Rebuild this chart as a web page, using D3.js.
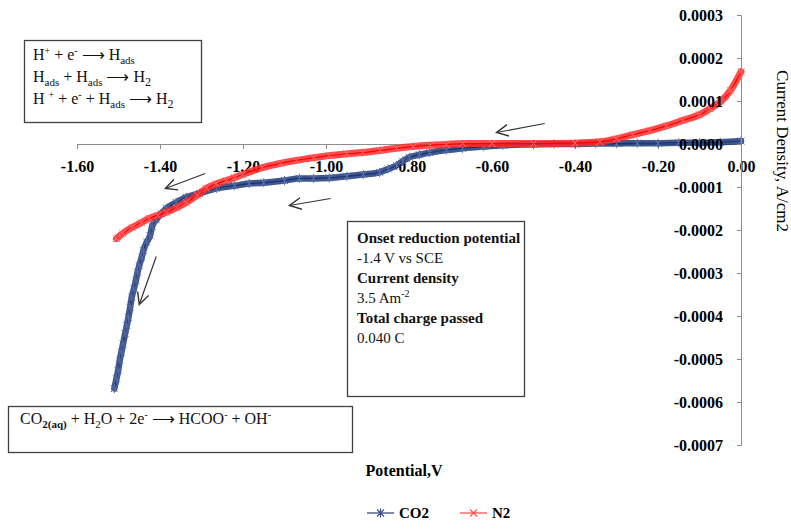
<!DOCTYPE html>
<html lang="en">
<head>
<meta charset="UTF-8">
<script src="https://cdnjs.cloudflare.com/ajax/libs/d3/7.8.5/d3.min.js"></script>
<style>
  body { margin: 0; background: #fff; }
  svg text { font-family: "Liberation Serif", "Times New Roman", serif; }
  .tick text { font-weight: bold; font-size: 16px; fill: #000; }
  .tick line, .domain { stroke: #8c8c8c; }
</style>
</head>
<body>
<div id="chart"></div>
<script>
// ---- data (potential in V, current density in A/cm2) ----
const co2Potential = [-1.510, -1.505, -1.501, -1.497, -1.493, -1.489, -1.484, -1.480, -1.476, -1.472,
  -1.468, -1.463, -1.458, -1.454, -1.450, -1.444, -1.440, -1.432, -1.424, -1.419, -1.409, -1.397,
  -1.385, -1.361, -1.337, -1.305, -1.264, -1.22, -1.185, -1.15, -1.10, -1.064, -1.03, -0.992,
  -0.95, -0.91, -0.871, -0.85, -0.830, -0.815, -0.799, -0.775, -0.750, -0.71, -0.671, -0.62,
  -0.574, -0.50, -0.45, -0.40, -0.35, -0.30, -0.25, -0.20, -0.15, -0.10, -0.05, 0.0];
const co2Current = [-5.69, -5.46, -5.27, -5.03, -4.84, -4.65, -4.41, -4.22, -4.03, -3.80,
  -3.56, -3.37, -3.17, -2.98, -2.83, -2.63, -2.48, -2.28, -2.13, -1.92, -1.76, -1.62,
  -1.50, -1.36, -1.24, -1.15, -1.03, -0.97, -0.92, -0.90, -0.85, -0.80, -0.80, -0.79,
  -0.75, -0.71, -0.66, -0.58, -0.50, -0.40, -0.31, -0.25, -0.20, -0.14, -0.10, -0.06,
  -0.03, -0.01, 0.00, 0.00, 0.01, 0.01, 0.02, 0.02, 0.03, 0.03, 0.04, 0.07].map(v => v * 1e-4);

const n2Potential = [-1.505, -1.49, -1.467, -1.445, -1.426, -1.405, -1.385, -1.36, -1.337, -1.31,
  -1.288, -1.265, -1.240, -1.22, -1.201, -1.153, -1.11, -1.071, -1.03, -0.992, -0.95, -0.912,
  -0.87, -0.830, -0.79, -0.750, -0.71, -0.671, -0.60, -0.50, -0.40, -0.34, -0.30, -0.26,
  -0.22, -0.18, -0.14, -0.10, -0.075, -0.05, -0.025, 0.0];
const n2Current = [-2.20, -2.08, -1.94, -1.83, -1.73, -1.66, -1.59, -1.48, -1.36, -1.19,
  -1.03, -0.93, -0.85, -0.78, -0.71, -0.55, -0.45, -0.38, -0.32, -0.27, -0.23, -0.20,
  -0.15, -0.10, -0.06, -0.03, -0.01, 0.01, 0.01, 0.01, 0.02, 0.05, 0.12, 0.22,
  0.31, 0.42, 0.55, 0.68, 0.82, 0.98, 1.25, 1.68].map(v => v * 1e-4);

const xTicks = [-1.6, -1.4, -1.2, -1.0, -0.8, -0.6, -0.4, -0.2, 0.0];
const yTicks = [0.0003, 0.0002, 0.0001, 0, -0.0001, -0.0002, -0.0003, -0.0004, -0.0005, -0.0006, -0.0007];

// direction arrows [tail potential, tail current, head potential, head current]
const arrows = [
  [-0.473, 0.0000477, -0.589, 0.0000267],
  [-1.291, -0.0000686, -1.387, -0.0001035],
  [-0.989, -0.0001267, -1.088, -0.000143],
  [-1.409, -0.0002616, -1.450, -0.0003733]
];

const co2 = co2Potential.map((d, i) => [d, co2Current[i]]);
const n2 = n2Potential.map((d, i) => [d, n2Current[i]]);

// ---- layout ----
const width = 791, height = 529;
const svg = d3.select("#chart").append("svg")
  .attr("width", width).attr("height", height);

const x = d3.scaleLinear().domain([-1.6, 0]).range([77, 741]);
const y = d3.scaleLinear().domain([-0.0007, 0.0003]).range([445, 15]);

// x axis on the zero line
svg.append("g")
  .attr("transform", `translate(0,${y(0)})`)
  .call(d3.axisBottom(x).tickValues(xTicks).tickSize(5).tickPadding(12).tickFormat(d3.format(".2f")))
  .call(g => g.selectAll(".tick text").text(d => d3.format(".2f")(d).replace("−", "-")));

// curves
const line = d3.line().x(d => x(d[0])).y(d => y(d[1])).curve(d3.curveMonotoneX);

function starPath(s) {
  return `M${-s},${-s}L${s},${s}M${-s},${s}L${s},${-s}M0,${-s * 1.3}L0,${s * 1.3}`;
}
function crossPath(s) {
  return `M${-s},${-s}L${s},${s}M${-s},${s}L${s},${-s}`;
}

function drawSeries(data, bandColor, lineColor, markColor, markPath, bandWidth) {
  const g = svg.append("g");
  g.append("path").datum(data)
    .attr("d", line).attr("fill", "none")
    .attr("stroke", bandColor).attr("stroke-width", bandWidth)
    .attr("stroke-linejoin", "round").attr("stroke-linecap", "round")
    .attr("opacity", 0.85);
  g.append("path").datum(data)
    .attr("d", line).attr("fill", "none")
    .attr("stroke", lineColor).attr("stroke-width", 1.2);
  g.selectAll(".m").data(data).enter().append("path")
    .attr("transform", d => `translate(${x(d[0])},${y(d[1])})`)
    .attr("d", markPath(3.5))
    .attr("fill", "none").attr("stroke", markColor).attr("stroke-width", 1);
}

drawSeries(co2, "#1f3a7a", "#1a3370", "#5a6fa8", starPath, 6.5);
drawSeries(n2, "#ff2a2a", "#ff0000", "#ff7070", crossPath, 7);

// y axis on the right
svg.append("g")
  .attr("transform", `translate(${x(0)},0)`)
  .call(d3.axisLeft(y).tickValues(yTicks).tickSize(4).tickPadding(14).tickFormat(d3.format(".4f")))
  .call(g => g.selectAll(".tick text").text(d => d3.format(".4f")(d).replace("−", "-")));

// arrows
svg.append("defs").append("marker")
  .attr("id", "head").attr("viewBox", "0 0 10 10")
  .attr("refX", 9).attr("refY", 5)
  .attr("markerWidth", 13).attr("markerHeight", 13)
  .attr("markerUnits", "userSpaceOnUse")
  .attr("orient", "auto")
  .append("path").attr("d", "M0,0.5L9,5L0,9.5")
  .attr("fill", "none").attr("stroke", "#333").attr("stroke-width", 1.1);

svg.selectAll(".arrow").data(arrows).enter().append("line")
  .attr("x1", d => x(d[0])).attr("y1", d => y(d[1]))
  .attr("x2", d => x(d[2])).attr("y2", d => y(d[3]))
  .attr("stroke", "#333").attr("stroke-width", 1.2)
  .attr("marker-end", "url(#head)");

// axis titles
svg.append("text")
  .attr("x", 404).attr("y", 476)
  .attr("text-anchor", "middle")
  .attr("font-size", 16).attr("font-weight", "bold")
  .text("Potential,V");

svg.append("text")
  .attr("transform", "translate(777,151) rotate(90)")
  .attr("text-anchor", "middle")
  .attr("font-size", 17)
  .text("Current Density, A/cm2");

// text boxes
function box(x0, y0, w, h) {
  svg.append("rect").attr("x", x0).attr("y", y0).attr("width", w).attr("height", h)
    .attr("fill", "#fff").attr("stroke", "#404040").attr("stroke-width", 1.3);
}

const arrowChar = " \u27F6 ";

box(24.5, 40.5, 177, 82);
const eq = svg.append("g").attr("font-size", 16).attr("fill", "#111");
const l1 = eq.append("text").attr("x", 33).attr("y", 60);
l1.append("tspan").text("H");
l1.append("tspan").attr("font-size", 10).attr("dy", -6).text("+");
l1.append("tspan").attr("dy", 6).text(" + e");
l1.append("tspan").attr("font-size", 10).attr("dy", -6).text("-");
l1.append("tspan").attr("dy", 6).text(arrowChar + "H");
l1.append("tspan").attr("font-size", 11).attr("dy", 4).text("ads");
const l2 = eq.append("text").attr("x", 33).attr("y", 82);
l2.append("tspan").text("H");
l2.append("tspan").attr("font-size", 11).attr("dy", 4).text("ads");
l2.append("tspan").attr("dy", -4).text(" + H");
l2.append("tspan").attr("font-size", 11).attr("dy", 4).text("ads");
l2.append("tspan").attr("dy", -4).text(arrowChar + "H");
l2.append("tspan").attr("font-size", 12).attr("dy", 4).text("2");
const l3 = eq.append("text").attr("x", 33).attr("y", 104);
l3.append("tspan").text("H ");
l3.append("tspan").attr("font-size", 10).attr("dy", -6).text("+");
l3.append("tspan").attr("dy", 6).text(" + e");
l3.append("tspan").attr("font-size", 10).attr("dy", -6).text("-");
l3.append("tspan").attr("dy", 6).text(" + H");
l3.append("tspan").attr("font-size", 11).attr("dy", 4).text("ads");
l3.append("tspan").attr("dy", -4).text(arrowChar + "H");
l3.append("tspan").attr("font-size", 12).attr("dy", 4).text("2");

box(347.5, 221.5, 177, 175);
const info = [
  ["Onset reduction potential", true],
  ["-1.4 V vs SCE", false],
  ["Current density", true],
  ["3.5 Am", false],
  ["Total charge passed", true],
  ["0.040 C", false]
];
info.forEach((d, i) => {
  const t = svg.append("text").attr("x", 357).attr("y", 243 + i * 20)
    .attr("font-size", 15).attr("font-weight", d[1] ? "bold" : "normal").attr("fill", "#111")
    .text(d[0]);
  if (d[0] === "3.5 Am") t.append("tspan").attr("font-size", 10).attr("dy", -6).text("-2");
});

box(8.5, 406.5, 344, 46);
const l4 = svg.append("text").attr("x", 20).attr("y", 424).attr("font-size", 16).attr("fill", "#111");
l4.append("tspan").text("CO");
l4.append("tspan").attr("font-size", 11).attr("font-weight", "bold").attr("dy", 4).text("2(aq)");
l4.append("tspan").attr("dy", -4).text(" + H");
l4.append("tspan").attr("font-size", 11).attr("dy", 4).text("2");
l4.append("tspan").attr("dy", -4).text("O + 2e");
l4.append("tspan").attr("font-size", 10).attr("dy", -6).text("-");
l4.append("tspan").attr("dy", 6).text(arrowChar + "HCOO");
l4.append("tspan").attr("font-size", 10).attr("dy", -6).text("-");
l4.append("tspan").attr("dy", 6).text(" + OH");
l4.append("tspan").attr("font-size", 10).attr("dy", -6).text("-");

// legend
const legend = [
  ["CO2", "#3a4a86", starPath, 367],
  ["N2", "#ff5050", crossPath, 460]
];
legend.forEach(d => {
  const g = svg.append("g").attr("transform", `translate(${d[3]},513)`);
  g.append("line").attr("x1", 0).attr("x2", 27).attr("stroke", d[1]).attr("stroke-width", 1.3);
  g.append("path").attr("transform", "translate(13.5,0)").attr("d", d[2](3.5))
    .attr("fill", "none").attr("stroke", d[1]).attr("stroke-width", 1.1);
  g.append("text").attr("x", 32).attr("y", 5).attr("font-size", 15).attr("font-weight", "bold")
    .text(d[0]);
});
</script>
</body>
</html>
